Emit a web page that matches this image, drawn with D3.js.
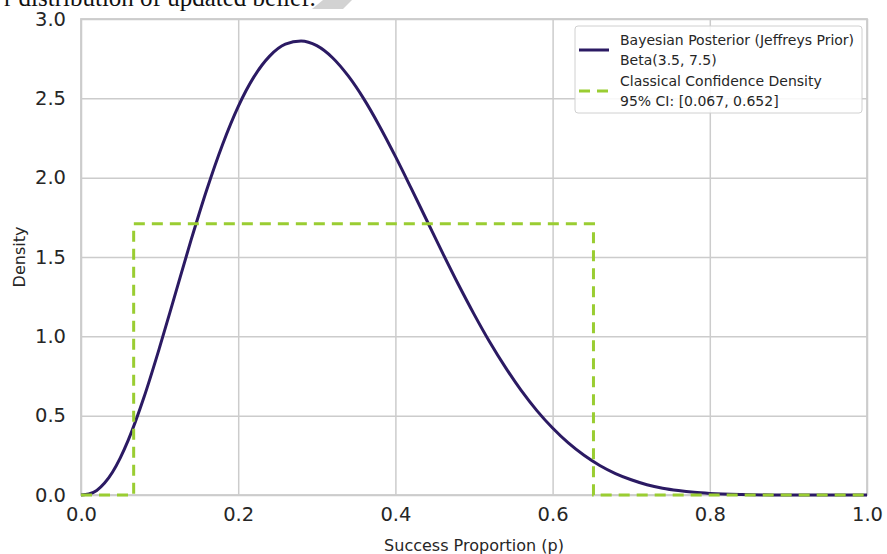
<!DOCTYPE html>
<html>
<head>
<meta charset="utf-8">
<script src="https://cdn.jsdelivr.net/npm/d3@7"></script>
<style>
  html, body { margin: 0; padding: 0; background: #fff; }
  svg { display: block; }
  text { font-family: "DejaVu Sans", sans-serif; }
</style>
</head>
<body>
<div id="vis"></div>
<script>
// posterior curve
const pValues = [0, 0.01, 0.02, 0.03, 0.04, 0.05, 0.06, 0.08, 0.10, 0.12, 0.14, 0.16, 0.18, 0.20,
  0.22, 0.24, 0.26, 0.28, 0.30, 0.32, 0.34, 0.36, 0.38, 0.40, 0.42, 0.44, 0.46, 0.48, 0.50,
  0.52, 0.54, 0.56, 0.58, 0.60, 0.62, 0.64, 0.66, 0.68, 0.70, 0.72, 0.74, 0.76, 0.78, 0.80,
  0.84, 0.88, 0.92, 0.96, 1.0]
const posteriorDensity = [0, 0.006, 0.029, 0.075, 0.143, 0.234, 0.344, 0.614, 0.930, 1.268, 1.606, 1.924, 2.208, 2.448,
  2.635, 2.766, 2.841, 2.862, 2.832, 2.756, 2.641, 2.495, 2.323, 2.134, 1.934, 1.730, 1.526, 1.328, 1.140,
  0.964, 0.804, 0.659, 0.532, 0.422, 0.328, 0.250, 0.186, 0.135, 0.096, 0.065, 0.043, 0.028, 0.017, 0.010,
  0.003, 0.0004, 0, 0, 0]

// classical confidence density (flat over the 95% CI)
const confP = [0, 0.067, 0.067, 0.652, 0.652, 1.0]
const confDensity = [0, 0, 1.709, 1.709, 0, 0]

const xTicks = [0, 0.2, 0.4, 0.6, 0.8, 1.0]
const yTicks = [0, 0.5, 1.0, 1.5, 2.0, 2.5, 3.0]

const legendLabels = [
  ["Bayesian Posterior (Jeffreys Prior)", "Beta(3.5, 7.5)"],
  ["Classical Confidence Density", "95% CI: [0.067, 0.652]"]
]
const seriesColors = ["#2b1a63", "#9acd32"]

const W = 887, H = 554
const margin = {left: 81, top: 19, right: 20, bottom: 59}

let svg = d3.select("#vis").append("svg")
  .attr("width", W)
  .attr("height", H)

// cropped caption text from the page above the figure
svg.append("text")
  .attr("x", 4)
  .attr("y", 6)
  .style("font-family", "'Liberation Serif', serif")
  .style("font-size", "25px")
  .attr("fill", "#111")
  .text("r distribution of updated belief.")
svg.append("polygon")
  .attr("points", "323,0 352,0 343,9 312,9")
  .attr("fill", "#d2d2d2")

let xScale = d3.scaleLinear().domain([0, 1]).range([margin.left, W - margin.right])
let yScale = d3.scaleLinear().domain([0, 3]).range([H - margin.bottom, margin.top])

// plot background
svg.append("rect")
  .attr("x", xScale(0)).attr("y", yScale(3))
  .attr("width", xScale(1) - xScale(0))
  .attr("height", yScale(0) - yScale(3))
  .attr("fill", "#fff")

// grid
svg.append("g")
  .attr("transform", `translate(0,${yScale(0)})`)
  .call(d3.axisBottom(xScale).tickValues(xTicks).tickSize(-(yScale(0) - yScale(3))).tickFormat(""))
  .call(g => g.select(".domain").remove())
  .selectAll("line").attr("stroke", "#cccccc").attr("stroke-width", 1.5)
svg.append("g")
  .attr("transform", `translate(${xScale(0)},0)`)
  .call(d3.axisLeft(yScale).tickValues(yTicks).tickSize(-(xScale(1) - xScale(0))).tickFormat(""))
  .call(g => g.select(".domain").remove())
  .selectAll("line").attr("stroke", "#cccccc").attr("stroke-width", 1.5)

// frame
svg.append("rect")
  .attr("x", xScale(0)).attr("y", yScale(3))
  .attr("width", xScale(1) - xScale(0))
  .attr("height", yScale(0) - yScale(3))
  .attr("fill", "none")
  .attr("stroke", "#cccccc")
  .attr("stroke-width", 1.8)

// tick labels
let xAxis = svg.append("g")
  .attr("transform", `translate(0,${yScale(0)})`)
  .call(d3.axisBottom(xScale).tickValues(xTicks).tickSize(0).tickPadding(12).tickFormat(d3.format(".1f")))
xAxis.select(".domain").remove()
xAxis.selectAll("text").style("font-size", "19.5px").attr("fill", "#262626")

let yAxis = svg.append("g")
  .attr("transform", `translate(${xScale(0)},0)`)
  .call(d3.axisLeft(yScale).tickValues(yTicks).tickSize(0).tickPadding(15).tickFormat(d3.format(".1f")))
yAxis.select(".domain").remove()
yAxis.selectAll("text").style("font-size", "19.5px").attr("fill", "#262626")

// axis titles
svg.append("text")
  .attr("x", (xScale(0) + xScale(1)) / 2)
  .attr("y", 551)
  .attr("text-anchor", "middle")
  .style("font-size", "16px")
  .attr("fill", "#262626")
  .text("Success Proportion (p)")
svg.append("text")
  .attr("transform", `translate(25,${(yScale(0) + yScale(3)) / 2}) rotate(-90)`)
  .attr("text-anchor", "middle")
  .style("font-size", "16px")
  .attr("fill", "#262626")
  .text("Density")

// series
let posterior = pValues.map((p, i) => ({p: p, d: posteriorDensity[i]}))
let conf = confP.map((p, i) => ({p: p, d: confDensity[i]}))

svg.append("path")
  .datum(posterior)
  .attr("fill", "none")
  .attr("stroke", seriesColors[0])
  .attr("stroke-width", 3)
  .attr("d", d3.line().x(d => xScale(d.p)).y(d => yScale(d.d)).curve(d3.curveMonotoneX))

svg.append("path")
  .datum(conf)
  .attr("fill", "none")
  .attr("stroke", seriesColors[1])
  .attr("stroke-width", 3)
  .attr("stroke-dasharray", "11,7")
  .attr("d", d3.line().x(d => xScale(d.p)).y(d => yScale(d.d)))

// legend
let legend = svg.append("g").attr("transform", "translate(575,26)")
legend.append("rect")
  .attr("width", 287).attr("height", 87)
  .attr("rx", 3)
  .attr("fill", "#fff").attr("fill-opacity", 0.85)
  .attr("stroke", "#d0d0d0")

legendLabels.forEach((lines, i) => {
  let y0 = 14 + i * 41
  legend.append("line")
    .attr("x1", 4).attr("x2", 34)
    .attr("y1", y0 + 10).attr("y2", y0 + 10)
    .attr("stroke", seriesColors[i])
    .attr("stroke-width", 3)
    .attr("stroke-dasharray", i === 1 ? "11,7" : null)
  lines.forEach((t, j) => {
    legend.append("text")
      .attr("x", 45)
      .attr("y", y0 + 5 + j * 19.5)
      .style("font-size", "14px")
      .attr("fill", "#262626")
      .text(t)
  })
})
</script>
</body>
</html>
